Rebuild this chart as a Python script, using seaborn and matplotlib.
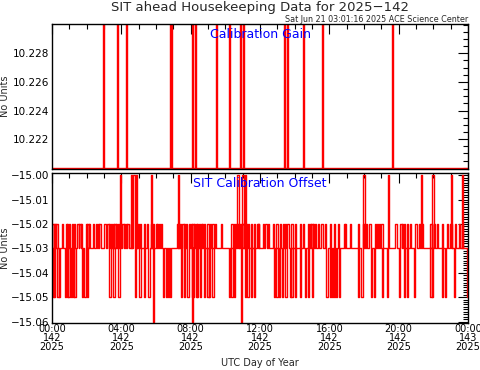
import matplotlib
matplotlib.use("Agg")
import matplotlib.pyplot as plt
from matplotlib.ticker import FixedLocator, MultipleLocator
import pandas as pd
import seaborn as sns

# =========================
# DATA
# =========================

# Calibration Gain: baseline with short spikes (hours of day 142)
gain_base = 10.2200
gain_spike_value = 10.2400
gain_spike_hours = [2.94, 3.75, 4.27, 6.81, 6.87, 8.08, 8.25, 9.46, 10.21,
                    10.85, 11.02, 13.38, 13.56, 14.48, 15.58, 19.62]

# SIT Calibration Offset: baseline -15.03 with excursions
offset_base = -15.03
offset_up_hours = [0.02, 0.10, 0.17, 0.25, 0.56, 0.79, 0.88, 0.98, 1.13, 1.27,
                   1.46, 1.58, 1.67, 1.94, 2.04, 2.13, 2.35, 2.52, 2.63, 2.73,
                   3.02, 3.20, 3.30, 3.40, 3.50, 3.60, 3.70, 3.80, 4.06, 4.15,
                   4.25, 4.35, 4.56, 4.85, 4.94, 5.08, 5.31, 5.46, 5.69, 5.84,
                   5.98, 6.07, 6.17, 6.27, 7.19, 7.27, 7.38, 7.52, 7.62, 7.71,
                   7.90, 8.00, 8.10, 8.19, 8.29, 8.38, 8.48, 8.58, 8.67, 8.77,
                   8.96, 9.12, 9.25, 9.38, 9.73, 10.35, 10.50, 10.60, 10.73,
                   10.85, 10.98, 11.17, 11.31, 11.46, 11.65, 11.85, 11.88,
                   12.17, 12.31, 12.46, 12.75, 12.94, 13.13, 13.33, 13.42,
                   13.58, 13.81, 14.00, 14.29, 14.48, 14.77, 14.87, 14.96,
                   15.06, 15.15, 15.35, 15.54, 15.73, 16.02, 16.27, 16.50,
                   16.85, 16.92, 17.17, 17.65, 17.93, 18.12, 18.31, 18.62,
                   18.75, 18.85, 19.00, 19.81, 20.10, 20.19, 20.29, 20.48,
                   20.67, 20.96, 21.15, 21.35, 21.83, 22.02, 22.21, 22.50,
                   22.79, 22.98, 23.23, 23.46, 23.65]
offset_up_value = -15.02
offset_down_hours = [0.04, 0.13, 0.31, 0.42, 0.75, 0.85, 0.94, 1.08, 1.19, 1.29,
                     1.71, 1.87, 2.00, 3.31, 3.54, 3.83, 4.79, 5.04, 5.31, 5.56,
                     6.42, 6.56, 6.69, 6.81, 7.42, 7.62, 7.81, 8.10, 8.29, 8.38,
                     8.54, 8.77, 8.96, 9.06, 9.25, 10.21, 10.35, 10.50, 11.12,
                     11.27, 11.46, 11.65, 12.81, 12.94, 13.08, 13.27, 13.46,
                     13.71, 13.81, 14.00, 14.29, 14.58, 14.77, 15.00, 15.83,
                     16.02, 16.15, 16.27, 16.40, 16.54, 17.65, 17.85, 18.42,
                     18.56, 19.04, 19.33, 20.00, 20.29, 20.48, 20.87, 21.83,
                     21.92, 22.50, 22.65, 23.17, 23.94]
offset_down_value = -15.05
offset_high_hours = [3.93, 4.55, 4.70, 4.85, 5.69, 7.27, 10.69, 10.98, 11.12,
                     17.96, 19.37, 21.27, 21.94, 23.02, 23.67]
offset_high_value = -15.00
offset_low_hours = [5.80, 8.06, 10.92]
offset_low_value = -15.06

pulse_width = 0.07

x_ticks = [0, 4, 8, 12, 16, 20, 24]
x_tick_labels = ["00:00\n142\n2025", "04:00\n142\n2025", "08:00\n142\n2025",
                 "12:00\n142\n2025", "16:00\n142\n2025", "20:00\n142\n2025",
                 "00:00\n143\n2025"]
gain_y_ticks = [10.222, 10.224, 10.226, 10.228]
offset_y_ticks = [-15.00, -15.01, -15.02, -15.03, -15.04, -15.05, -15.06]


def build_series(base, pulses):
    t, v = [0.0], [base]
    for start, val in sorted(pulses):
        t += [start, start, start + pulse_width, start + pulse_width]
        v += [base, val, val, base]
    t.append(24.0)
    v.append(base)
    return pd.DataFrame({"hour": t, "value": v})


gain_df = build_series(gain_base, [(h, gain_spike_value) for h in gain_spike_hours])
offset_df = build_series(
    offset_base,
    [(h, offset_up_value) for h in offset_up_hours]
    + [(h, offset_down_value) for h in offset_down_hours]
    + [(h, offset_high_value) for h in offset_high_hours]
    + [(h, offset_low_value) for h in offset_low_hours],
)

# =========================
# PLOT
# =========================

sns.set_theme(style="white")
plt.rcParams["font.family"] = ["DejaVu Sans"]

W, H = 481, 370
fig = plt.figure(figsize=(W / 100, H / 100), dpi=100)


def px_axes(left, top, right, bottom):
    return fig.add_axes([left / W, 1 - bottom / H, (right - left) / W, (bottom - top) / H])


ax1 = px_axes(52, 24, 468, 169)
ax2 = px_axes(52, 173, 468, 323)

sns.lineplot(data=gain_df, x="hour", y="value", ax=ax1, estimator=None,
             sort=False, color="red", linewidth=1.0)
sns.lineplot(data=offset_df, x="hour", y="value", ax=ax2, estimator=None,
             sort=False, color="red", linewidth=1.0)

ax1.set_ylim(10.21991, 10.23005)
ax2.set_ylim(-15.0606, -14.9991)

for ax in (ax1, ax2):
    ax.set_xlim(0, 24)
    ax.xaxis.set_major_locator(FixedLocator(x_ticks))
    ax.xaxis.set_minor_locator(MultipleLocator(1))
    ax.tick_params(which="both", direction="in", top=True, right=True,
                   colors="black", labelsize=7.5, pad=2)
    ax.tick_params(which="major", length=7, width=0.8)
    ax.tick_params(which="minor", length=3.5, width=0.8)
    for s in ax.spines.values():
        s.set_color("black")
        s.set_linewidth(1.0)
    ax.set_ylabel("No Units", fontsize=7)
    ax.set_xlabel("")
    ax.yaxis.set_label_coords(-0.10, 0.5)

ax1.yaxis.set_major_locator(FixedLocator(gain_y_ticks))
ax1.yaxis.set_minor_locator(MultipleLocator(0.0005))
ax1.set_yticklabels([f"{v:.3f}" for v in gain_y_ticks])
ax1.set_xticklabels([])

ax2.yaxis.set_major_locator(FixedLocator(offset_y_ticks))
ax2.yaxis.set_minor_locator(MultipleLocator(0.001))
ax2.set_yticklabels([f"{v:.2f}".replace("-", "\u2212") for v in offset_y_ticks])
ax2.set_xticklabels(x_tick_labels, linespacing=0.85, fontsize=7)
ax2.tick_params(axis="x", which="major", pad=1)
ax2.set_xlabel("UTC Day of Year", fontsize=7, labelpad=4)

ax1.text(0.5, 0.93, "Calibration Gain", transform=ax1.transAxes, color="blue",
         ha="center", va="center", fontsize=9)
ax2.text(0.5, 0.93, "SIT Calibration Offset", transform=ax2.transAxes, color="blue",
         ha="center", va="center", fontsize=9)

fig.text(0.54, 1 - 8 / H, "SIT ahead Housekeeping Data for 2025-142".replace("-", "\u2212"),
         ha="center", va="center", fontsize=9.5)
fig.text(468 / W, 1 - 19 / H, "Sat Jun 21 03:01:16 2025 ACE Science Center",
         ha="right", va="center", fontsize=5.8)

fig.savefig("out.png", dpi=100)
